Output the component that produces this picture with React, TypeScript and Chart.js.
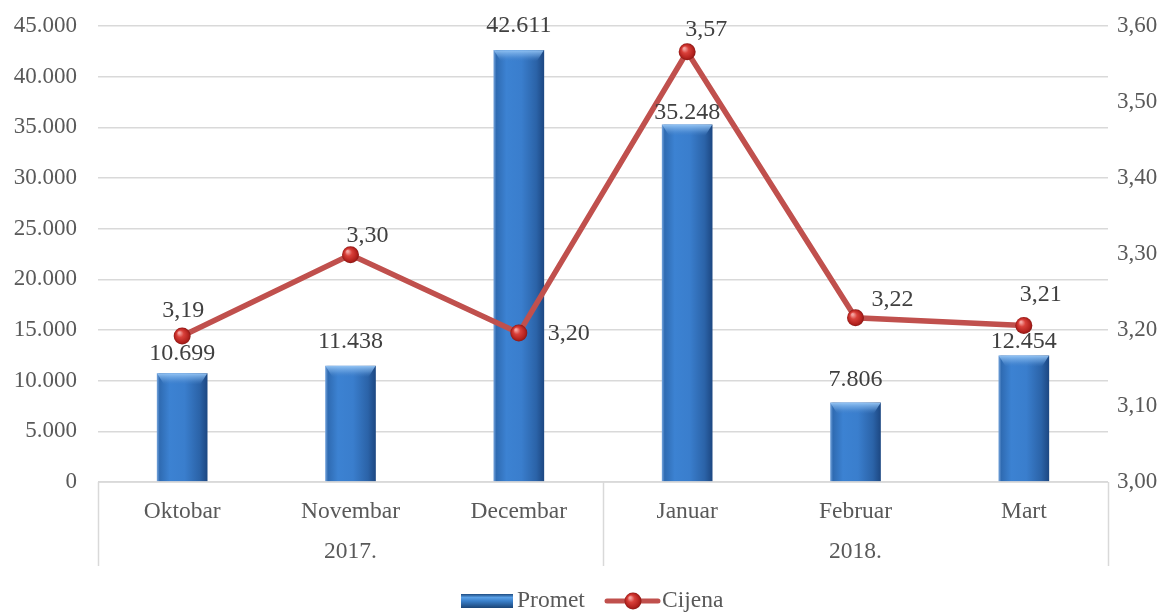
import React, { useEffect, useRef } from 'react';
import { Chart, registerables } from 'chart.js';

Chart.register(...registerables);

const months = ['Oktobar', 'Novembar', 'Decembar', 'Januar', 'Februar', 'Mart'];
const years = ['2017.', '2018.'];
const yearSpans = [3, 3];
const promet = [10699, 11438, 42611, 35248, 7806, 12454];
const cijena = [3.192, 3.299, 3.196, 3.566, 3.216, 3.206];
const seriesNames = ['Promet', 'Cijena'];
const leftAxis = { min: 0, max: 45000, step: 5000 };
const rightAxis = { min: 3.0, max: 3.6, step: 0.1 };

// styling: label offsets relative to marks
const barLabelDy = [-20, -24, -25, -12, -23, -14];
const lineLabelOff = [[1, -25], [17, -19], [50, 1], [19, -22], [37, -18], [17, -31]];

const FONT = '"Liberation Serif", "Times New Roman", serif';
const TICK_COLOR = '#595959';
const LABEL_COLOR = '#404040';
const GRID = '#d9d9d9';
const RED = '#c0504d';

const fmtInt = (n: number) => Math.round(n).toString().replace(/\B(?=(\d{3})+(?!\d))/g, '.');
const fmtDec = (v: number) => v.toFixed(2).replace('.', ',');

function barGradient(ctx: CanvasRenderingContext2D, x0: number, x1: number) {
  const g = ctx.createLinearGradient(x0, 0, x1, 0);
  g.addColorStop(0, '#6f9fd8');
  g.addColorStop(0.05, '#2f6bb2');
  g.addColorStop(0.25, '#3c82d2');
  g.addColorStop(0.55, '#3a7ecd');
  g.addColorStop(0.85, '#2b63a8');
  g.addColorStop(1, '#1d4883');
  return g;
}

function sphere(ctx: CanvasRenderingContext2D, x: number, y: number, r: number) {
  const g = ctx.createRadialGradient(x - r * 0.35, y - r * 0.4, r * 0.1, x, y, r);
  g.addColorStop(0, '#f4a3a0');
  g.addColorStop(0.35, '#d9403a');
  g.addColorStop(0.8, '#b3221e');
  g.addColorStop(1, '#8a1714');
  return g;
}

const overlayPlugin = {
  id: 'overlay',
  afterDatasetsDraw(chart: any) {
    const ctx: CanvasRenderingContext2D = chart.ctx;
    const barMeta = chart.getDatasetMeta(0);
    const lineMeta = chart.getDatasetMeta(1);
    ctx.save();
    barMeta.data.forEach((el: any) => {
      const { x, y, width } = el.getProps(['x', 'y', 'width'], true);
      const l = x - width / 2;
      const r = x + width / 2;
      const g = ctx.createLinearGradient(0, y, 0, y + 11);
      g.addColorStop(0, 'rgba(150,198,245,0.95)');
      g.addColorStop(0.5, 'rgba(110,165,225,0.6)');
      g.addColorStop(1, 'rgba(70,130,200,0.0)');
      ctx.fillStyle = g;
      ctx.beginPath();
      ctx.moveTo(l, y);
      ctx.lineTo(r, y);
      ctx.lineTo(r - 7, y + 11);
      ctx.lineTo(l + 7, y + 11);
      ctx.closePath();
      ctx.fill();
    });
    ctx.restore();

    ctx.save();
    lineMeta.data.forEach((el: any) => {
      const { x, y } = el.getProps(['x', 'y'], true);
      ctx.fillStyle = sphere(ctx, x, y, 8.5);
      ctx.beginPath();
      ctx.arc(x, y, 8.5, 0, Math.PI * 2);
      ctx.fill();
    });
    ctx.restore();

    ctx.save();
    ctx.font = `24px ${FONT}`;
    ctx.fillStyle = LABEL_COLOR;
    ctx.textAlign = 'center';
    ctx.textBaseline = 'middle';
    barMeta.data.forEach((el: any, i: number) => {
      const { x, y } = el.getProps(['x', 'y'], true);
      ctx.fillText(fmtInt(promet[i]), x, y + barLabelDy[i]);
    });
    lineMeta.data.forEach((el: any, i: number) => {
      const { x, y } = el.getProps(['x', 'y'], true);
      ctx.fillText(fmtDec(cijena[i]), x + lineLabelOff[i][0], y + lineLabelOff[i][1]);
    });
    ctx.restore();
  },
  afterDraw(chart: any) {
    const ctx: CanvasRenderingContext2D = chart.ctx;
    const xs = chart.scales.x;
    const area = chart.chartArea;
    const n = months.length;
    const step = (area.right - area.left) / n;
    const boxBottom = area.bottom + 84;
    ctx.save();
    ctx.strokeStyle = GRID;
    ctx.lineWidth = 1.5;
    ctx.beginPath();
    ctx.moveTo(area.left, area.bottom);
    ctx.lineTo(area.right, area.bottom);
    ctx.stroke();
    let idx = 0;
    const bounds: number[] = [0];
    yearSpans.forEach((s) => {
      idx += s;
      bounds.push(idx);
    });
    bounds.forEach((b) => {
      const x = Math.round(area.left + b * step) + 0.5;
      ctx.beginPath();
      ctx.moveTo(x, area.bottom);
      ctx.lineTo(x, boxBottom);
      ctx.stroke();
    });
    ctx.font = `23.5px ${FONT}`;
    ctx.fillStyle = TICK_COLOR;
    ctx.textAlign = 'center';
    ctx.textBaseline = 'middle';
    for (let k = 0; k < years.length; k++) {
      const a = bounds[k];
      const b = bounds[k + 1] - 1;
      const cx = (xs.getPixelForValue(a) + xs.getPixelForValue(b)) / 2;
      ctx.fillText(years[k], cx, area.bottom + 70);
    }
    const ly = 601;
    const bx0 = 461;
    const bx1 = 513;
    const vg = ctx.createLinearGradient(0, ly - 7, 0, ly + 7);
    vg.addColorStop(0, '#1d4a80');
    vg.addColorStop(0.25, '#5aa0e6');
    vg.addColorStop(0.5, '#3a80cb');
    vg.addColorStop(1, '#1b4577');
    ctx.fillStyle = vg;
    ctx.fillRect(bx0, ly - 7, bx1 - bx0, 14);
    ctx.fillStyle = TICK_COLOR;
    ctx.textAlign = 'left';
    ctx.fillText(seriesNames[0], 517, ly);
    ctx.strokeStyle = RED;
    ctx.lineWidth = 5;
    ctx.lineCap = 'round';
    ctx.beginPath();
    ctx.moveTo(607, ly);
    ctx.lineTo(658, ly);
    ctx.stroke();
    ctx.fillStyle = sphere(ctx, 633, ly, 8.5);
    ctx.beginPath();
    ctx.arc(633, ly, 8.5, 0, Math.PI * 2);
    ctx.fill();
    ctx.fillStyle = TICK_COLOR;
    ctx.fillText(seriesNames[1], 662, ly);
    ctx.restore();
  },
};

export default function App() {
  const ref = useRef<HTMLCanvasElement | null>(null);
  useEffect(() => {
    if (!ref.current) return;
    const chart = new Chart(ref.current, {
      type: 'bar',
      data: {
        labels: months,
        datasets: [
          {
            type: 'bar',
            label: seriesNames[0],
            data: promet,
            yAxisID: 'y',
            barThickness: 50,
            backgroundColor: (c: any) => {
              const ch = c.chart;
              if (!ch.chartArea) return '#2e75b6';
              const x = ch.scales.x.getPixelForValue(c.dataIndex);
              return barGradient(ch.ctx, x - 25, x + 25);
            },
            borderWidth: 0,
            order: 2,
          },
          {
            type: 'line',
            label: seriesNames[1],
            data: cijena,
            yAxisID: 'y1',
            borderColor: RED,
            borderWidth: 5.5,
            pointRadius: 0,
            tension: 0,
            order: 1,
          },
        ],
      },
      options: {
        animation: false,
        responsive: false,
        maintainAspectRatio: false,
        layout: { padding: { top: 26, left: 0, right: 0, bottom: 0 } },
        plugins: { legend: { display: false }, tooltip: { enabled: false } },
        scales: {
          x: {
            grid: { display: false },
            border: { display: false },
            ticks: {
              color: TICK_COLOR,
              font: { family: FONT, size: 23.5 },
              padding: 8,
              maxRotation: 0,
            },
            afterFit: (s: any) => {
              s.height = 130;
            },
          },
          y: {
            position: 'left',
            min: leftAxis.min,
            max: leftAxis.max,
            grid: { color: GRID, lineWidth: 1.5, drawTicks: false },
            border: { display: false },
            ticks: {
              stepSize: leftAxis.step,
              color: TICK_COLOR,
              font: { family: FONT, size: 23 },
              padding: 21,
              callback: (v: any) => fmtInt(Number(v)),
            },
            afterFit: (s: any) => {
              s.width = 98;
              s.paddingTop = 0;
              s.paddingBottom = 0;
            },
          },
          y1: {
            position: 'right',
            min: rightAxis.min,
            max: rightAxis.max,
            grid: { display: false, drawTicks: false },
            border: { display: false },
            ticks: {
              stepSize: rightAxis.step,
              color: TICK_COLOR,
              font: { family: FONT, size: 23 },
              padding: 9,
              callback: (v: any) => fmtDec(Number(v)),
            },
            afterFit: (s: any) => {
              s.width = 66;
              s.paddingTop = 0;
              s.paddingBottom = 0;
            },
          },
        },
      },
      plugins: [overlayPlugin],
    } as any);
    return () => chart.destroy();
  }, []);
  return (
    <div style={{ position: 'fixed', left: 0, top: 0, width: 1174, height: 612, background: '#fff' }}>
      <canvas ref={ref} width={1174} height={612} style={{ display: 'block', width: 1174, height: 612 }} />
    </div>
  );
}
